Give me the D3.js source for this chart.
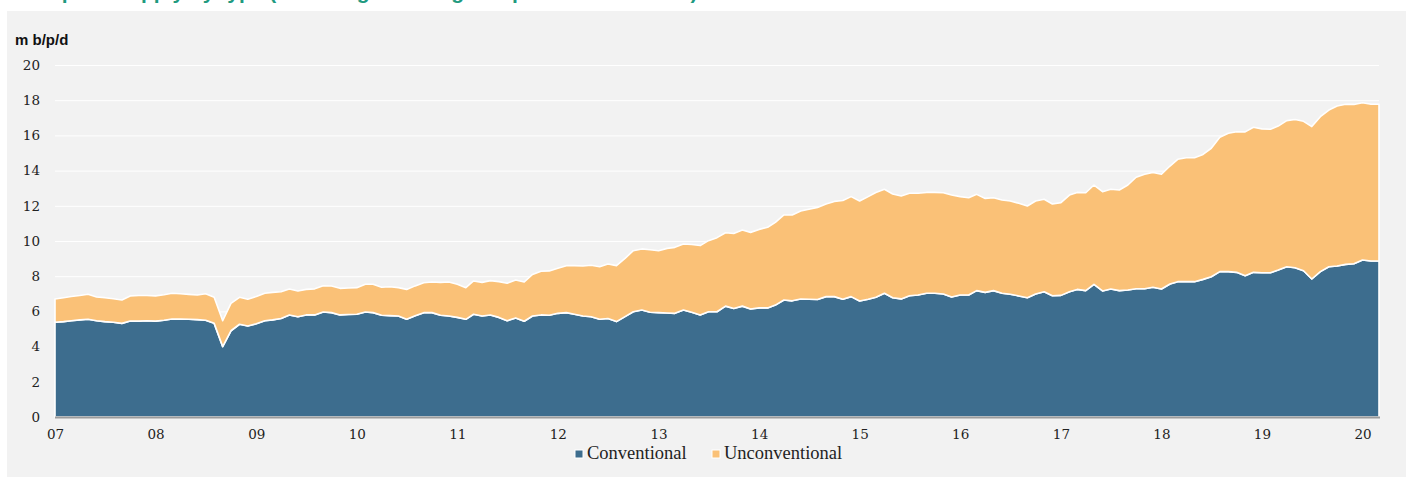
<!DOCTYPE html>
<html>
<head>
<meta charset="utf-8">
<script src="https://cdn.jsdelivr.net/npm/d3@7"></script>
<style>
  body { margin: 0; background: #fff; }
  .axis text { font-family: 'DejaVu Serif', serif; font-size: 13.5px; fill: #222; }
  .axis .domain { display: none; }
  .grid line { stroke: #fff; stroke-width: 1; }
  .legend text { font-family: 'Liberation Serif', serif; font-size: 18.5px; fill: #222; }
</style>
</head>
<body>
<svg id="chart" width="1413" height="477"></svg>
<script>
// monthly, Jan 2007 .. Mar 2020 (m b/p/d)
var conventional = [
  5.38, 5.42, 5.47, 5.52, 5.55, 5.47, 5.42, 5.38, 5.32, 5.45, 5.45, 5.47,
  5.45, 5.50, 5.57, 5.56, 5.55, 5.53, 5.50, 5.32, 4.00, 4.90, 5.27, 5.17,
  5.30, 5.47, 5.52, 5.60, 5.80, 5.70, 5.80, 5.80, 5.97, 5.93, 5.80, 5.82,
  5.84, 5.97, 5.93, 5.78, 5.76, 5.74, 5.55, 5.75, 5.93, 5.93, 5.78, 5.74,
  5.66, 5.55, 5.84, 5.74, 5.80, 5.66, 5.47, 5.63, 5.44, 5.74, 5.80, 5.78,
  5.89, 5.93, 5.84, 5.74, 5.70, 5.55, 5.60, 5.42, 5.70, 5.98, 6.08, 5.95,
  5.93, 5.91, 5.89, 6.08, 5.95, 5.80, 5.98, 5.98, 6.30, 6.17, 6.30, 6.14,
  6.20, 6.20, 6.36, 6.65, 6.60, 6.70, 6.69, 6.68, 6.84, 6.84, 6.69, 6.84,
  6.59, 6.69, 6.80, 7.03, 6.78, 6.71, 6.89, 6.93, 7.03, 7.03, 6.99, 6.82,
  6.93, 6.93, 7.18, 7.08, 7.18, 7.03, 6.97, 6.88, 6.78, 6.99, 7.12, 6.89,
  6.91, 7.12, 7.25, 7.18, 7.54, 7.16, 7.27, 7.18, 7.22, 7.29, 7.29, 7.37,
  7.27, 7.56, 7.69, 7.69, 7.69, 7.82, 7.97, 8.26, 8.26, 8.22, 8.03, 8.22,
  8.20, 8.20, 8.35, 8.54, 8.48, 8.31, 7.84, 8.26, 8.54, 8.58, 8.67, 8.71,
  8.92, 8.86, 8.86
];
var unconventional = [
  1.32, 1.36, 1.38, 1.38, 1.42, 1.35, 1.36, 1.34, 1.33, 1.43, 1.45, 1.43,
  1.43, 1.45, 1.46, 1.44, 1.42, 1.40, 1.50, 1.48, 1.47, 1.56, 1.53, 1.52,
  1.55, 1.56, 1.56, 1.52, 1.47, 1.46, 1.45, 1.48, 1.49, 1.51, 1.51, 1.51,
  1.51, 1.57, 1.61, 1.59, 1.64, 1.61, 1.70, 1.70, 1.70, 1.74, 1.87, 1.93,
  1.88, 1.80, 1.89, 1.91, 1.95, 2.03, 2.13, 2.15, 2.23, 2.36, 2.48, 2.52,
  2.56, 2.67, 2.76, 2.84, 2.92, 2.99, 3.09, 3.18, 3.31, 3.47, 3.47, 3.55,
  3.52, 3.67, 3.75, 3.75, 3.85, 3.94, 4.04, 4.21, 4.17, 4.26, 4.32, 4.35,
  4.46, 4.58, 4.70, 4.83, 4.88, 5.00, 5.11, 5.23, 5.26, 5.41, 5.61, 5.68,
  5.68, 5.83, 5.96, 5.91, 5.89, 5.85, 5.82, 5.78, 5.73, 5.73, 5.75, 5.79,
  5.59, 5.53, 5.47, 5.34, 5.28, 5.30, 5.30, 5.26, 5.21, 5.28, 5.25, 5.21,
  5.27, 5.49, 5.51, 5.56, 5.64, 5.64, 5.67, 5.72, 5.96, 6.33, 6.50, 6.53,
  6.52, 6.70, 6.95, 7.04, 7.04, 7.10, 7.30, 7.63, 7.86, 7.99, 8.17, 8.24,
  8.17, 8.15, 8.18, 8.30, 8.42, 8.49, 8.66, 8.80, 8.90, 9.09, 9.10, 9.05,
  8.94, 8.91, 8.91
];
var months = d3.timeMonth.range(new Date(2007, 0, 1), new Date(2020, 3, 1));
var yTicks = [0, 2, 4, 6, 8, 10, 12, 14, 16, 18, 20];
var seriesNames = ['Conventional', 'Unconventional'];
var seriesKeys = ['conventional', 'unconventional'];
var seriesColors = ['#3d6d8e', '#fac177'];
var unitLabel = 'm b/p/d';
var titleText = 'US liquids supply by type (including natural gas liquids and biofuels)';

var svg = d3.select('#chart');
var plot = { left: 55, right: 1379, top: 65, bottom: 417 };

// panel background
svg.append('rect')
  .attr('x', 7)
  .attr('y', 11)
  .attr('width', 1399)
  .attr('height', 470)
  .attr('fill', '#f2f2f2');

// title, cut off at the very top like the source (only descenders show)
svg.append('text')
  .attr('x', 8)
  .attr('y', -1)
  .style('font-family', 'Liberation Sans, Arial, sans-serif')
  .style('font-weight', 'bold')
  .style('font-size', '21px')
  .attr('fill', '#1f9a80')
  .text(titleText);

var rows = months.map(function (d, i) {
  return { date: d, conventional: conventional[i], unconventional: unconventional[i] };
});

var xScale = d3.scaleTime()
  .domain(d3.extent(months))
  .range([plot.left, plot.right]);

var yScale = d3.scaleLinear()
  .domain([0, 20])
  .range([plot.bottom, plot.top]);

// y axis with white gridlines
svg.append('g')
  .attr('class', 'axis grid')
  .attr('transform', 'translate(' + plot.left + ',0)')
  .call(d3.axisLeft(yScale)
    .tickValues(yTicks)
    .tickSize(-(plot.right - plot.left))
    .tickPadding(15)
    .tickFormat(d3.format('d')));

var stacked = d3.stack().keys(seriesKeys)(rows);

var area = d3.area()
  .x(function (d) { return xScale(d.data.date); })
  .y0(function (d) { return yScale(d[0]); })
  .y1(function (d) { return yScale(d[1]); });

svg.append('g')
  .selectAll('path')
  .data(stacked)
  .enter()
  .append('path')
  .attr('d', area)
  .attr('fill', function (d, i) { return seriesColors[i]; })
  .attr('stroke', '#fff')
  .attr('stroke-width', 1.6)
  .attr('stroke-linejoin', 'round');

// baseline
svg.append('line')
  .attr('x1', plot.left)
  .attr('x2', plot.right + 1)
  .attr('y1', plot.bottom + 0.5)
  .attr('y2', plot.bottom + 0.5)
  .attr('stroke', '#9c9c9c')
  .attr('stroke-width', 2);

// x axis
svg.append('g')
  .attr('class', 'axis')
  .attr('transform', 'translate(0,' + plot.bottom + ')')
  .call(d3.axisBottom(xScale)
    .ticks(d3.timeYear.every(1))
    .tickSize(0)
    .tickPadding(12)
    .tickFormat(d3.timeFormat('%y')));

// unit label
svg.append('text')
  .attr('x', 15)
  .attr('y', 45)
  .style('font-family', 'Liberation Sans, Arial, sans-serif')
  .style('font-weight', 'bold')
  .style('font-size', '15px')
  .attr('fill', '#111')
  .text(unitLabel);

// legend
var legendX = [575, 712];
var legend = svg.append('g').attr('class', 'legend');
seriesNames.forEach(function (name, i) {
  legend.append('rect')
    .attr('x', legendX[i])
    .attr('y', 450)
    .attr('width', 8)
    .attr('height', 8)
    .attr('fill', seriesColors[i])
    .attr('stroke', '#fff')
    .attr('stroke-width', 1);
  legend.append('text')
    .attr('x', legendX[i] + 12)
    .attr('y', 459)
    .text(name);
});
</script>
</body>
</html>
